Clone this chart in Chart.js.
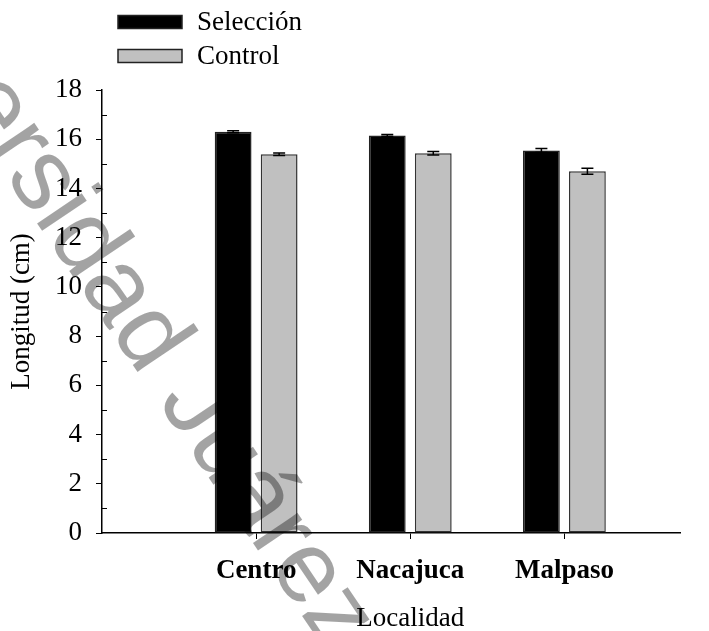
<!DOCTYPE html>
<html>
<head>
<meta charset="utf-8">
<script src="https://cdn.jsdelivr.net/npm/chart.js@4"></script>
<style>
  html, body { margin: 0; padding: 0; background: #fff; }
  #wrap { width: 709px; height: 631px; position: relative; }
</style>
</head>
<body>
<div id="wrap"><canvas id="c" width="709" height="631"></canvas></div>
<script>
// Localidades y longitudes medias (cm) con su error estándar
const categories = ['Centro', 'Nacajuca', 'Malpaso'];
const seleccion = [16.30, 16.15, 15.54];
const seleccionErr = [0.04, 0.04, 0.08];
const control = [15.39, 15.43, 14.70];
const controlErr = [0.05, 0.07, 0.12];
const seriesNames = ['Selección', 'Control'];
const yMax = 18;
const yStep = 2;

const SERIF = '"Liberation Serif", "Times New Roman", serif';

// Error bars (both directions) on top of each bar
const errorBars = {
  id: 'errorBars',
  afterDatasetsDraw(chart) {
    const ctx = chart.ctx;
    const y = chart.scales.y;
    chart.data.datasets.forEach((ds, di) => {
      const meta = chart.getDatasetMeta(di);
      meta.data.forEach((bar, i) => {
        const v = ds.data[i].y;
        const e = ds.errors[i];
        const yTop = y.getPixelForValue(v + e);
        const yBot = y.getPixelForValue(v - e);
        const cap = 6;
        ctx.save();
        ctx.strokeStyle = '#000';
        ctx.lineWidth = 1.5;
        ctx.beginPath();
        ctx.moveTo(bar.x, yTop); ctx.lineTo(bar.x, yBot);
        ctx.moveTo(bar.x - cap, yTop); ctx.lineTo(bar.x + cap, yTop);
        ctx.moveTo(bar.x - cap, yBot); ctx.lineTo(bar.x + cap, yBot);
        ctx.stroke();
        ctx.restore();
      });
    });
  }
};

// Minor tick marks on the y axis, pointing into the plot
const minorTicks = {
  id: 'minorTicks',
  afterDraw(chart) {
    const ctx = chart.ctx;
    const y = chart.scales.y;
    const x0 = chart.chartArea.left;
    ctx.save();
    ctx.strokeStyle = '#000';
    ctx.lineWidth = 1;
    ctx.beginPath();
    for (let v = yStep / 2; v < yMax; v += yStep) {
      const py = Math.round(y.getPixelForValue(v)) + 0.5;
      ctx.moveTo(x0, py); ctx.lineTo(x0 + 5, py);
    }
    ctx.stroke();
    ctx.restore();
  }
};

// Vertical legend above the plot
const legendBox = {
  id: 'legendBox',
  afterDraw(chart) {
    const ctx = chart.ctx;
    const rows = [22, 56];
    ctx.save();
    chart.data.datasets.forEach((ds, i) => {
      const cy = rows[i];
      ctx.fillStyle = ds.backgroundColor;
      ctx.fillRect(118, cy - 6.5, 64, 13);
      ctx.strokeStyle = '#222';
      ctx.lineWidth = 1.5;
      ctx.strokeRect(118, cy - 6.5, 64, 13);
      ctx.fillStyle = '#000';
      ctx.font = '27px ' + SERIF;
      ctx.textBaseline = 'middle';
      ctx.textAlign = 'left';
      ctx.fillText(ds.label, 197, cy + 1);
    });
    ctx.restore();
  }
};

// Axis title for the locality axis, centred under the middle locality
const xTitle = {
  id: 'xTitle',
  afterDraw(chart) {
    const ctx = chart.ctx;
    const x = chart.scales.x;
    ctx.save();
    ctx.fillStyle = '#000';
    ctx.font = '27px ' + SERIF;
    ctx.textAlign = 'center';
    ctx.textBaseline = 'alphabetic';
    ctx.fillText('Localidad', x.getPixelForValue(2), 626);
    ctx.restore();
  }
};

// Diagonal institutional watermark
const watermark = {
  id: 'watermark',
  afterDraw(chart) {
    const ctx = chart.ctx;
    const ang = 56 * Math.PI / 180;
    ctx.save();
    ctx.translate(-160, -69);
    ctx.rotate(ang);
    ctx.font = '102px "Liberation Sans", Arial, sans-serif';
    ctx.fillStyle = 'rgba(0,0,0,0.36)';
    ctx.textBaseline = 'alphabetic';
    ctx.textAlign = 'left';
    ctx.fillText('Universidad Juárez Autónoma de Tabasco', 0, 0);
    ctx.restore();
  }
};

const toPoints = (vals) => vals.map((v, i) => ({ x: i + 1, y: v }));

new Chart(document.getElementById('c'), {
  type: 'bar',
  data: {
    datasets: [
      {
        label: seriesNames[0],
        data: toPoints(seleccion),
        errors: seleccionErr,
        backgroundColor: '#000000',
        borderColor: '#222222',
        borderWidth: 1.5,
        borderSkipped: false
      },
      {
        label: seriesNames[1],
        data: toPoints(control),
        errors: controlErr,
        backgroundColor: '#c0c0c0',
        borderColor: '#333333',
        borderWidth: 1.5,
        borderSkipped: false
      }
    ]
  },
  options: {
    responsive: false,
    animation: false,
    events: [],
    layout: { padding: { top: 90, right: 29, bottom: 0, left: 0 } },
    datasets: { bar: { categoryPercentage: 0.597, barPercentage: 0.80 } },
    plugins: { legend: { display: false }, tooltip: { enabled: false } },
    scales: {
      x: {
        type: 'linear',
        min: 0,
        max: 3.75,
        offset: false,
        afterBuildTicks: (s) => { s.ticks = categories.map((_, i) => ({ value: i + 1 })); },
        afterFit: (s) => { s.height = 98; },
        ticks: {
          callback: (v) => categories[v - 1],
          font: { family: SERIF, size: 27, weight: 'bold' },
          color: '#000',
          padding: 16,
          maxRotation: 0,
          autoSkip: false
        },
        grid: { display: true, offset: false, drawOnChartArea: false, drawTicks: true, tickLength: 6, color: '#000', lineWidth: 1 },
        border: { display: true, color: '#000', width: 1.5 }
      },
      y: {
        min: 0,
        max: yMax,
        afterFit: (s) => { s.width = 102; },
        ticks: {
          stepSize: yStep,
          font: { family: SERIF, size: 27 },
          color: '#000',
          padding: 14
        },
        grid: { display: true, drawOnChartArea: false, drawTicks: true, tickLength: 6, color: '#000', lineWidth: 1 },
        border: { display: true, color: '#000', width: 1.5 },
        title: {
          display: true,
          text: 'Longitud (cm)',
          font: { family: SERIF, size: 27 },
          color: '#000',
          padding: { top: 6, bottom: 0 }
        }
      }
    }
  },
  plugins: [errorBars, minorTicks, legendBox, xTitle, watermark]
});
</script>
</body>
</html>
